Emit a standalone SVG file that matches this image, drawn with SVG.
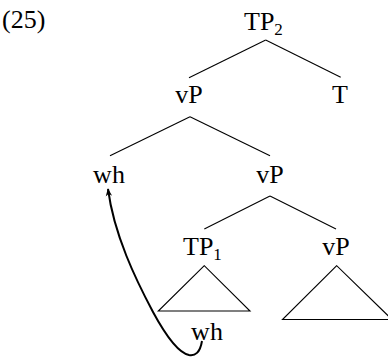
<svg xmlns="http://www.w3.org/2000/svg" width="388" height="357" viewBox="0 0 388 357">
<defs>
<style>
text{font-family:"Liberation Serif","Times New Roman",serif;font-size:26px;fill:#000}
.n text{text-anchor:middle}
.n text.s{text-anchor:start}
.sub{font-size:17px}
.e line,.e polygon{stroke:#000;stroke-width:1.1;fill:none}
.mv{stroke:#000;stroke-width:2;fill:none}
</style>
<marker id="ah" viewBox="0 0 10 10" refX="9" refY="5" markerWidth="8" markerHeight="8" orient="auto" markerUnits="userSpaceOnUse">
<path d="M0,1 L10,5 L0,9 L3,5 Z" fill="#000"/>
</marker>
</defs>
<text x="2" y="28">(25)</text>
<g id="TP2" class="n"><text class="s" x="244" y="30">TP<tspan class="sub" dy="5">2</tspan></text></g>
<g id="vP1" class="n"><text x="189" y="103">vP</text></g>
<g id="T" class="n"><text x="340" y="103">T</text></g>
<g id="wh1" class="n"><text x="109" y="183">wh</text></g>
<g id="vP2" class="n"><text x="270" y="183">vP</text></g>
<g id="TP1" class="n"><text class="s" x="183" y="255">TP<tspan class="sub" dy="5">1</tspan></text></g>
<g id="vP3" class="n"><text x="336" y="255">vP</text></g>
<g id="wh2" class="n"><text x="207" y="340">wh</text></g>
<g id="edges" class="e">
<line x1="265.7" y1="40" x2="189" y2="77.7"/>
<line x1="265.7" y1="40" x2="340.7" y2="77.3"/>
<line x1="190" y1="116.7" x2="110" y2="155.7"/>
<line x1="190" y1="116.7" x2="270" y2="155.7"/>
<line x1="270" y1="196" x2="204.3" y2="229"/>
<line x1="270" y1="196" x2="336" y2="229"/>
<polygon points="204.3,265.7 158.3,311 250,311"/>
<polygon points="336.7,265.7 282.5,319.5 392,319.5"/>
<path class="mv" d="M202,341 C200,353 195,356 189,355 C179,353 166,336 153,312 C136,280 114,235 108,189" marker-end="url(#ah)"/>
</g>
</svg>
